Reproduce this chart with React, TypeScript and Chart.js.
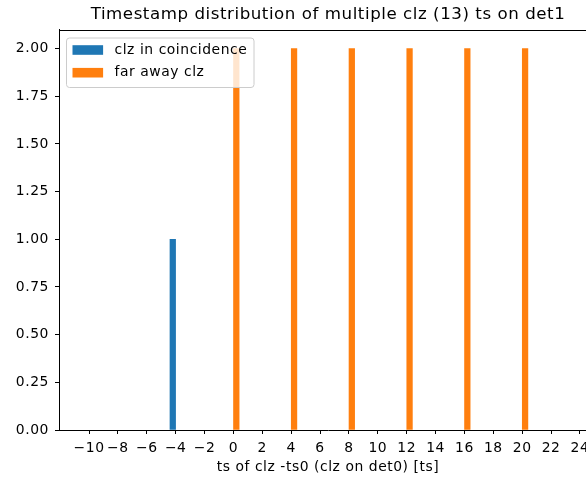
import { useEffect, useRef } from "react";
import { Chart, registerables } from "chart.js";

Chart.register(...registerables);

// Histogram counts per timestamp offset (bin centres)
const coincidenceTs = [-4.2];
const coincidenceCounts = [1];
const farAwayTs = [0.2, 4.2, 8.2, 12.2, 16.2, 20.2];
const farAwayCounts = [2, 2, 2, 2, 2, 2];

const seriesLabels = ["clz in coincidence", "far away clz"];
const seriesColors = ["#1f77b4", "#ff7f0e"];

const xTickValues = [-10, -8, -6, -4, -2, 0, 2, 4, 6, 8, 10, 12, 14, 16, 18, 20, 22, 24];
const yTickValues = [0, 0.25, 0.5, 0.75, 1.0, 1.25, 1.5, 1.75, 2.0];

const titleText = "Timestamp distribution of multiple clz (13) ts on det1";
const xAxisTitle = "ts of clz -ts0 (clz on det0) [ts]";

const FONT = "DejaVu Sans";
const LETTER_SPACING = "0.55px";

// Slightly wider glyph advances, like hinted raster text
const spacingPlugin = {
  id: "spacing",
  beforeUpdate(chart: any) {
    chart.ctx.letterSpacing = LETTER_SPACING;
  },
  beforeDraw(chart: any) {
    chart.ctx.letterSpacing = LETTER_SPACING;
  },
};

// Top and right spines of the axes frame
const framePlugin = {
  id: "frame",
  afterDraw(chart: any) {
    const { ctx, chartArea } = chart;
    ctx.save();
    ctx.strokeStyle = "#000";
    ctx.lineWidth = 1;
    ctx.beginPath();
    ctx.moveTo(chartArea.left, Math.round(chartArea.top) + 0.5);
    ctx.lineTo(chartArea.right, Math.round(chartArea.top) + 0.5);
    ctx.moveTo(Math.round(chartArea.right) + 0.5, chartArea.top);
    ctx.lineTo(Math.round(chartArea.right) + 0.5, chartArea.bottom);
    ctx.stroke();
    ctx.restore();
  },
};

// Boxed legend in the upper-left corner of the plot
const legendBoxPlugin = {
  id: "legendBox",
  afterDraw(chart: any) {
    const { ctx, chartArea } = chart;
    const x0 = chartArea.left + 7.5;
    const y0 = chartArea.top + 8.5;
    const w = 187.5;
    const h = 49.5;
    const r = 3;
    ctx.save();
    ctx.beginPath();
    ctx.moveTo(x0 + r, y0);
    ctx.lineTo(x0 + w - r, y0);
    ctx.quadraticCurveTo(x0 + w, y0, x0 + w, y0 + r);
    ctx.lineTo(x0 + w, y0 + h - r);
    ctx.quadraticCurveTo(x0 + w, y0 + h, x0 + w - r, y0 + h);
    ctx.lineTo(x0 + r, y0 + h);
    ctx.quadraticCurveTo(x0, y0 + h, x0, y0 + h - r);
    ctx.lineTo(x0, y0 + r);
    ctx.quadraticCurveTo(x0, y0, x0 + r, y0);
    ctx.closePath();
    ctx.fillStyle = "rgba(255,255,255,0.8)";
    ctx.fill();
    ctx.strokeStyle = "#cccccc";
    ctx.lineWidth = 1;
    ctx.stroke();

    ctx.font = `13.9px "${FONT}"`;
    ctx.letterSpacing = LETTER_SPACING;
    ctx.textBaseline = "middle";
    ctx.textAlign = "left";
    chart.data.datasets.forEach((ds: any, i: number) => {
      const cy = y0 + 12 + i * 22.7;
      ctx.fillStyle = ds.backgroundColor;
      ctx.fillRect(x0 + 6, cy - 4.8, 30.6, 9.6);
      ctx.fillStyle = "#000";
      ctx.fillText(ds.label, x0 + 48, cy);
    });
    ctx.restore();
  },
};

const minusFmt = (v: number) => (v < 0 ? "\u2212" + Math.abs(v) : String(v));

export default function App() {
  const canvasRef = useRef<HTMLCanvasElement | null>(null);

  useEffect(() => {
    if (!canvasRef.current) return;
    const chart = new Chart(canvasRef.current, {
      type: "bar",
      data: {
        datasets: [
          {
            label: seriesLabels[0],
            data: coincidenceTs.map((x, i) => ({ x, y: coincidenceCounts[i] })),
            backgroundColor: seriesColors[0],
            borderWidth: 0,
            barThickness: 5.6,
            grouped: false,
          },
          {
            label: seriesLabels[1],
            data: farAwayTs.map((x, i) => ({ x, y: farAwayCounts[i] })),
            backgroundColor: seriesColors[1],
            borderWidth: 0,
            barThickness: 5.6,
            grouped: false,
          },
        ] as any,
      },
      options: {
        animation: false,
        responsive: false,
        devicePixelRatio: 1,
        layout: { padding: 0 },
        plugins: {
          legend: { display: false },
          tooltip: { enabled: false },
          title: {
            display: true,
            text: titleText,
            color: "#000",
            font: { family: FONT, size: 16.67, weight: "normal" },
            padding: { top: 4.5, bottom: 5 },
          },
        },
        scales: {
          x: {
            type: "linear",
            min: -12.08,
            max: 25.18,
            offset: false,
            grid: {
              offset: false,
              drawOnChartArea: false,
              drawTicks: true,
              tickLength: 4,
              color: "#000",
            },
            border: { display: true, color: "#000", width: 1 },
            ticks: {
              autoSkip: false,
              maxRotation: 0,
              minRotation: 0,
              padding: 6,
              color: "#000",
              font: { family: FONT, size: 13.9 },
              callback: (v: any) => minusFmt(Number(v)),
            },
            afterBuildTicks: (scale: any) => {
              scale.ticks = xTickValues.map((value) => ({ value }));
            },
            afterFit: (scale: any) => {
              scale.height = 47;
            },
            title: {
              display: true,
              text: xAxisTitle,
              color: "#000",
              font: { family: FONT, size: 13.9 },
              padding: { top: 0, bottom: 1 },
            },
          },
          y: {
            type: "linear",
            min: 0,
            max: 2.1,
            grid: {
              drawOnChartArea: false,
              drawTicks: true,
              tickLength: 4,
              color: "#000",
            },
            border: { display: true, color: "#000", width: 1 },
            ticks: {
              padding: 6,
              color: "#000",
              font: { family: FONT, size: 13.9 },
              callback: (v: any) => Number(v).toFixed(2),
            },
            afterBuildTicks: (scale: any) => {
              scale.ticks = yTickValues.map((value) => ({ value }));
            },
            afterFit: (scale: any) => {
              scale.width = 59;
            },
          },
          // empty right-hand margin, same width as the left axis
          yRight: {
            type: "linear",
            position: "right",
            min: 0,
            max: 2.1,
            grid: { display: false },
            border: { display: false },
            ticks: { display: false },
            afterFit: (scale: any) => {
              scale.width = 59;
            },
          },
        },
      } as any,
      plugins: [spacingPlugin, framePlugin, legendBoxPlugin],
    });
    return () => chart.destroy();
  }, []);

  return (
    <div
      style={{
        position: "fixed",
        left: 0,
        top: 0,
        width: 586,
        height: 477,
        overflow: "hidden",
        background: "#fff",
      }}
    >
      <canvas ref={canvasRef} width={656} height={477} style={{ display: "block" }} />
    </div>
  );
}
